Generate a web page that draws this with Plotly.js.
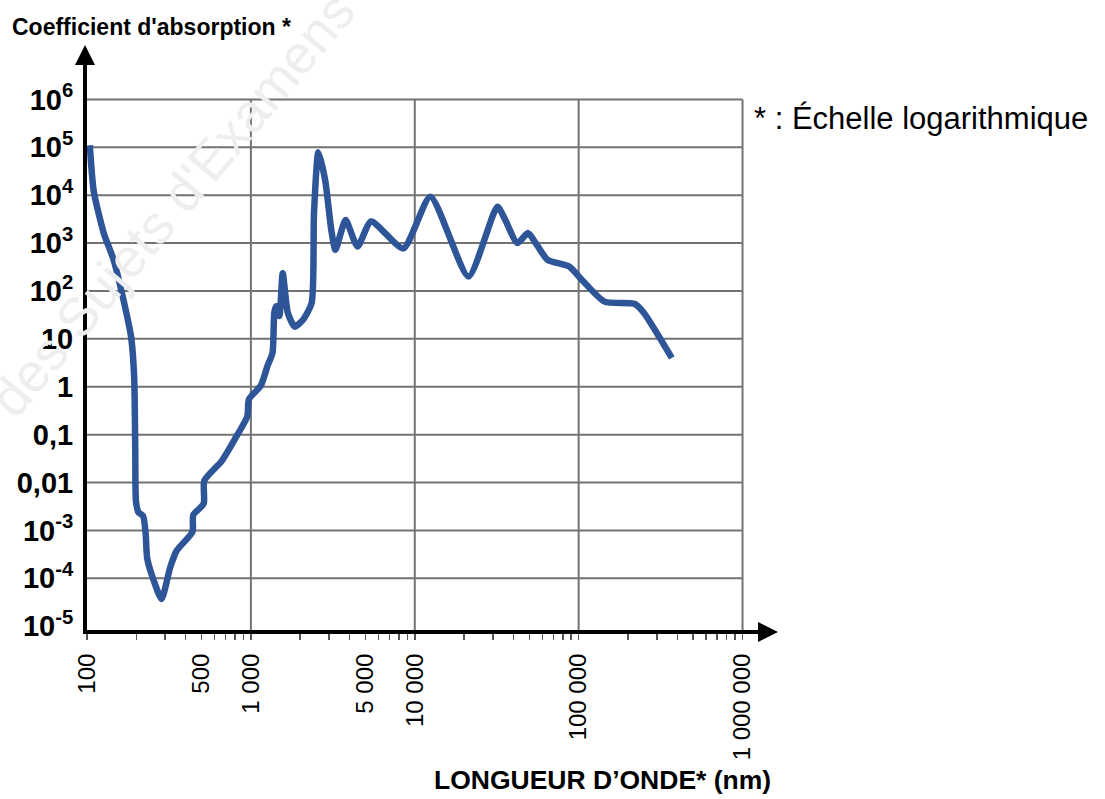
<!DOCTYPE html>
<html>
<head>
<meta charset="utf-8">
<script src="https://cdn.plot.ly/plotly-3.0.1.min.js"></script>
<style>
  html, body { margin: 0; padding: 0; background: #fff; }
  #chart { width: 1105px; height: 799px; }
</style>
</head>
<body>
<div id="chart"></div>
<script>
// wavelength (nm) and absorption coefficient
var wavelength = [
  104, 110, 127, 145, 166, 186, 194, 197, 199, 206, 220, 228, 233, 255, 285,
  322, 353, 440, 445, 515, 520, 663, 794, 951, 973, 1149, 1262, 1355, 1389,
  1423, 1492, 1564, 1680, 1849, 2081, 2348, 2427, 2582, 2841, 3097, 3280,
  3784, 4474, 5412, 8515, 12450, 21280, 31940, 35700, 42270, 49090, 54700,
  64600, 87550, 104800, 143800, 219300, 249700, 369900
];
var absorption = [
  1.1e5, 1.2e4, 1550, 457, 71, 10.7, 1.6, 0.052, 0.004, 0.0024, 0.002, 8.5e-4,
  2.6e-4, 9.1e-5, 3.7e-5, 1.7e-4, 3.8e-4, 9.3e-4, 0.0021, 0.0036, 0.011, 0.028,
  0.078, 0.24, 0.55, 1.05, 2.7, 5.1, 35, 48, 30, 234, 35, 18, 25, 56, 4170,
  79400, 20400, 1860, 724, 3020, 851, 2820, 776, 9330, 200, 5750, 3020, 1000,
  1620, 1000, 447, 324, 170, 60, 54, 35, 4.0
];

// axis labels
var xLabelVals = [100, 500, 1000, 5000, 10000, 100000, 1000000];
var xLabelText = ["100", "500", "1 000", "5 000", "10 000", "100 000", "1 000 000"];
var yTickVals = [1e6, 1e5, 1e4, 1e3, 1e2, 10, 1, 0.1, 0.01, 1e-3, 1e-4, 1e-5];
var yTickText = [
  "10<sup>6</sup>", "10<sup>5</sup>", "10<sup>4</sup>", "10<sup>3</sup>",
  "10<sup>2</sup>", "10", "1", "0,1", "0,01", "10<sup>-3</sup>",
  "10<sup>-4</sup>", "10<sup>-5</sup>"
];
var gridX = [1000, 10000, 100000, 1000000];
var gridY = [1e6, 1e5, 1e4, 1e3, 1e2, 10, 1, 0.1, 0.01, 1e-3, 1e-4];

var xRangeLog = [2, 6.015];
var yRangeLog = [-5.08, 6.03];

// every 1..9 multiple gets a tick, only some are labelled
var xTickVals = [];
var xTickText = [];
for (let d = 100; d <= 1000000; d *= 10) {
  for (let m = 1; m <= 9; m++) {
    var v = d * m;
    if (v > 1000000) break;
    xTickVals.push(v);
    var idx = xLabelVals.indexOf(v);
    xTickText.push(idx >= 0 ? xLabelText[idx] : "");
  }
}

var font = "Liberation Sans, Arial, sans-serif";
var gridColor = "#727272";

var shapes = [];
gridX.forEach(function (g) {
  shapes.push({
    type: "line", layer: "below", xref: "x", yref: "y",
    x0: g, x1: g, y0: Math.pow(10, yRangeLog[0]), y1: 1e6,
    line: { color: gridColor, width: 2 }
  });
});
gridY.forEach(function (g) {
  shapes.push({
    type: "line", layer: "below", xref: "x", yref: "y",
    x0: 100, x1: 1000000, y0: g, y1: g,
    line: { color: gridColor, width: 2 }
  });
});

var trace = {
  x: wavelength,
  y: absorption,
  type: "scatter",
  mode: "lines",
  line: { color: "#2e5597", width: 6.5, shape: "spline", smoothing: 0.6 },
  hoverinfo: "skip"
};

var layout = {
  width: 1105,
  height: 799,
  margin: { l: 87, r: 360, t: 98, b: 169 },
  paper_bgcolor: "#fff",
  plot_bgcolor: "#fff",
  showlegend: false,
  xaxis: {
    type: "log",
    range: xRangeLog,
    tickmode: "array",
    tickvals: xTickVals,
    ticktext: xTickText,
    tickangle: -90,
    ticks: "outside",
    ticklen: 6,
    tickwidth: 1.5,
    tickcolor: "#555",
    ticklabelstandoff: 4,
    tickfont: { family: font, size: 24, color: "#000" },
    showgrid: false,
    zeroline: false,
    showline: true,
    linecolor: "#000",
    linewidth: 4
  },
  yaxis: {
    type: "log",
    range: yRangeLog,
    tickmode: "array",
    tickvals: yTickVals,
    ticktext: yTickText,
    ticks: "",
    ticklabelstandoff: 4,
    tickfont: { family: font, size: 29, color: "#000", weight: "bold" },
    showgrid: false,
    zeroline: false,
    showline: true,
    linecolor: "#000",
    linewidth: 4
  },
  shapes: shapes,
  annotations: [
    // faint watermark
    {
      xref: "paper", yref: "paper", x: 0.13, y: 0.8,
      xanchor: "center", yanchor: "middle",
      text: "des Sujets d'Examens", showarrow: false, textangle: -50,
      font: { family: font, size: 54, color: "#eeeeee" }
    },
    {
      xref: "paper", yref: "paper", x: -0.117, y: 1.1335,
      xanchor: "left", yanchor: "middle", showarrow: false,
      text: "Coefficient d'absorption *",
      font: { family: font, size: 23, color: "#000", weight: "bold" }
    },
    {
      xref: "paper", yref: "paper", x: 1.0106, y: 0.962,
      xanchor: "left", yanchor: "middle", showarrow: false,
      text: "* : Échelle logarithmique",
      font: { family: font, size: 31, color: "#000" }
    },
    {
      xref: "paper", yref: "paper", x: 0.7827, y: -0.282,
      xanchor: "center", yanchor: "middle", showarrow: false,
      text: "LONGUEUR D\u2019ONDE* (nm)",
      font: { family: font, size: 26.5, color: "#000", weight: "bold" }
    },
    // axis arrows
    {
      xref: "paper", yref: "paper", x: 0, y: 1.0996, xshift: -2,
      text: "", showarrow: true, ax: 0, ay: 60,
      arrowhead: 2, arrowwidth: 4, arrowsize: 1, arrowcolor: "#000", standoff: 0
    },
    {
      xref: "paper", yref: "paper", x: 1.0502, y: 0, yshift: -2,
      text: "", showarrow: true, ax: -50, ay: 0,
      arrowhead: 2, arrowwidth: 4, arrowsize: 1, arrowcolor: "#000", standoff: 0
    }
  ]
};

Plotly.newPlot("chart", [trace], layout, { displayModeBar: false, staticPlot: true });
</script>
</body>
</html>
